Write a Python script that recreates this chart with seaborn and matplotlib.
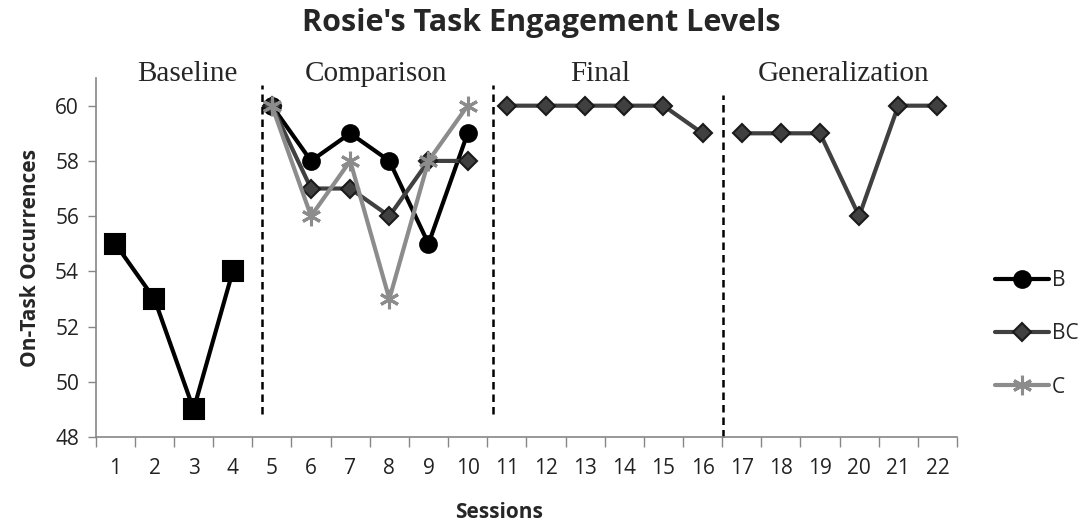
import matplotlib
matplotlib.use("Agg")
import matplotlib.pyplot as plt
from matplotlib.lines import Line2D
import numpy as np
import pandas as pd
import seaborn as sns

# ---- data ----
baseline_sessions = [1, 2, 3, 4]
baseline_vals = [55, 53, 49, 54]

comparison_sessions = [5, 6, 7, 8, 9, 10]
b_vals = [60, 58, 59, 58, 55, 59]
bc_comparison = [60, 57, 57, 56, 58, 58]
c_vals = [60, 56, 58, 53, 58, 60]

final_sessions = [11, 12, 13, 14, 15, 16]
bc_final = [60, 60, 60, 60, 60, 59]

general_sessions = [17, 18, 19, 20, 21, 22]
bc_general = [59, 59, 59, 56, 60, 60]

phase_names = ["Baseline", "Comparison", "Final", "Generalization"]
phase_label_x = [2.83, 7.66, 13.38, 19.59]
phase_breaks = [4.75, 10.64, 16.53]
break_ylims = [(48.85, 60.75), (48.85, 60.75), (48.0, 60.4)]

sessions_all = list(range(1, 23))

sns.set_theme(style="white")
plt.rcParams["font.family"] = ["Open Sans", "DejaVu Sans"]

STAR = (6, 2, 0)
styles = {
    "Baseline": dict(color="black", marker="s", markersize=14, mec="black", mew=1.5),
    "B": dict(color="black", marker="o", markersize=12, mec="black", mew=1.5),
    "BC": dict(color="#404040", marker="D", markersize=9, mec="#1a1a1a", mew=1.5),
    "C": dict(color="#8c8c8c", marker=STAR, markersize=14, mec="#8c8c8c", mew=2.2),
}

# drawn in Excel series order: B, BC, C on top
segments = [
    ("Baseline", baseline_sessions, baseline_vals),
    ("B", comparison_sessions, b_vals),
    ("BC", comparison_sessions, bc_comparison),
    ("C", comparison_sessions, c_vals),
    ("BC", final_sessions, bc_final),
    ("BC", general_sessions, bc_general),
]

fig = plt.figure(figsize=(10.89, 5.24), dpi=100)
ax = fig.add_axes([0.0879, 0.166, 0.7909, 0.685])

for name, xs, ys in segments:
    st = styles[name]
    df = pd.DataFrame({"session": xs, "value": ys})
    sns.lineplot(data=df, x="session", y="value", ax=ax, color=st["color"],
                 marker=st["marker"], markersize=st["markersize"],
                 markeredgecolor=st["mec"], markeredgewidth=st["mew"],
                 linewidth=3.0, legend=False, zorder=3)

# phase change lines
for xb, (y0, y1) in zip(phase_breaks, break_ylims):
    ax.vlines(xb, y0, y1, colors="black", linestyles=(0, (3, 2)), linewidth=1.8,
              zorder=2, clip_on=False)

for name, xl in zip(phase_names, phase_label_x):
    ax.text(xl, 61.15, name, ha="center", va="center", fontsize=21,
            family=["Liberation Serif", "DejaVu Serif"], clip_on=False)

ax.set_xlim(0.5, 22.5)
ax.set_ylim(48, 61)
ax.set_yticks(np.arange(48, 61, 2))
ax.set_xticks(sessions_all)
ax.set_xticklabels([str(s) for s in sessions_all])
ax.set_xticks(np.arange(0.5, 23, 1), minor=True)
ax.tick_params(axis="x", which="major", length=0, labelsize=15, pad=15, colors="#222222")
ax.tick_params(axis="x", which="minor", length=7, width=1, color="#868686",
               direction="out", bottom=True)
ax.tick_params(axis="y", length=6, width=1, color="#868686", direction="out",
               left=True, labelsize=15, labelcolor="#222222", pad=6)

for side in ["top", "right"]:
    ax.spines[side].set_visible(False)
for side in ["left", "bottom"]:
    ax.spines[side].set_color("#868686")
    ax.spines[side].set_linewidth(1.2)

ax.set_xlabel("Sessions", fontsize=15, fontweight="bold")
ax.xaxis.set_label_coords(0.468, -0.182)
ax.set_ylabel("On-Task Occurrences", fontsize=15, fontweight="bold", labelpad=10)

fig.suptitle("Rosie's Task Engagement Levels", x=0.497, y=0.985, fontsize=22,
             fontweight="bold")

handles = []
for name in ["B", "BC", "C"]:
    st = styles[name]
    handles.append(Line2D([], [], color=st["color"], marker=st["marker"],
                          markersize=st["markersize"], markeredgecolor=st["mec"],
                          markeredgewidth=st["mew"], linewidth=3.0, label=name))
fig.legend(handles=handles, loc="center", bbox_to_anchor=(0.952, 0.363),
           frameon=False, fontsize=15, handlelength=2.6, labelspacing=1.55,
           handletextpad=0.15)

fig.savefig("out.png", dpi=100)
